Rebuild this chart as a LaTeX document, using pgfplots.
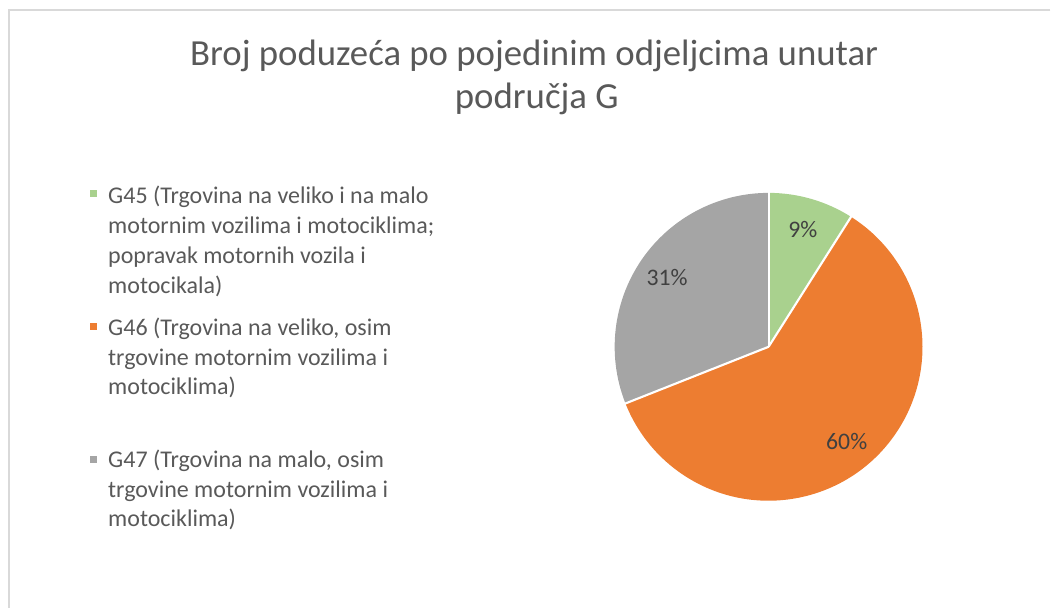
\documentclass[border=0pt]{standalone}
\usepackage{pgfplots}
\pgfplotsset{compat=1.18}
\usepackage{pgfplotstable}
\usepackage{fontspec}
\setmainfont{Carlito}
\definecolor{cGa}{HTML}{A9D18E}
\definecolor{cGb}{HTML}{ED7D31}
\definecolor{cGc}{HTML}{A5A5A5}
\definecolor{titlec}{HTML}{595959}
\definecolor{legc}{HTML}{595959}
\definecolor{labc}{HTML}{404040}
\definecolor{framec}{HTML}{D9D9D9}

\pgfplotstableread{
name value
G45 9
G46 60
G47 31
}\piedata

\pgfplotstablegetelem{0}{value}\of\piedata \let\va\pgfplotsretval
\pgfplotstablegetelem{1}{value}\of\piedata \let\vb\pgfplotsretval
\pgfplotstablegetelem{2}{value}\of\piedata \let\vc\pgfplotsretval
\pgfmathsetmacro\total{\va+\vb+\vc}
\pgfmathsetmacro\aA{90}
\pgfmathsetmacro\aB{\aA-360*(\va/\total)}
\pgfmathsetmacro\aC{\aB-360*(\vb/\total)}
\pgfmathsetmacro\aD{\aC-360*(\vc/\total)}
\pgfmathsetmacro\mA{(\aA+\aB)/2}
\pgfmathsetmacro\mB{(\aB+\aC)/2}
\pgfmathsetmacro\mC{(\aC+\aD)/2}
\def\R{115.5pt}
\def\Rl{92pt}

\begin{document}
\begin{tikzpicture}
\begin{axis}[width=788.25pt,height=456pt,scale only axis,
  xmin=0,xmax=1051,ymin=0,ymax=608,hide axis,clip=false]
% frame
\draw[framec,line width=0.9pt] (axis cs:1051,598) -- (axis cs:9,598) -- (axis cs:9,0);
% title
\node[anchor=base,inner sep=0,text=titlec,font=\fontsize{27.6}{32}\selectfont] at (axis cs:534.5,542.3) {Broj poduzeća po pojedinim odjeljcima unutar};
\node[anchor=base,inner sep=0,text=titlec,font=\fontsize{27.6}{32}\selectfont] at (axis cs:537,499.7) {područja G};
% pie
\fill[cGa] (axis cs:769,261) -- ++(\aA:\R) arc[start angle=\aA,end angle=\aB,radius=\R] -- cycle;
\fill[cGb] (axis cs:769,261) -- ++(\aB:\R) arc[start angle=\aB,end angle=\aC,radius=\R] -- cycle;
\fill[cGc] (axis cs:769,261) -- ++(\aC:\R) arc[start angle=\aC,end angle=\aD,radius=\R] -- cycle;
\draw[white,line width=1.6pt] (axis cs:769,261) -- ++(\aA:\R+1pt);
\draw[white,line width=1.6pt] (axis cs:769,261) -- ++(\aB:\R+1pt);
\draw[white,line width=1.6pt] (axis cs:769,261) -- ++(\aC:\R+1pt);
% data labels
\path (axis cs:769,261) ++(\mA:\Rl) node[text=labc,font=\fontsize{17.8}{20}\selectfont] {9\%};
\path (axis cs:769,261) ++(\mB:\Rl) node[text=labc,font=\fontsize{17.8}{20}\selectfont] {60\%};
\path (axis cs:769,261) ++(\mC:\Rl) node[text=labc,font=\fontsize{17.8}{20}\selectfont] {31\%};
% legend
\fill[cGa] (axis cs:90,418) rectangle (axis cs:97,411);
\fill[cGb] (axis cs:90,284.5) rectangle (axis cs:97,277.5);
\fill[cGc] (axis cs:90,151.3) rectangle (axis cs:97,144.3);
\begin{scope}[every node/.style={anchor=base west,inner sep=0,text=legc,font=\fontsize{18}{22}\selectfont}]
\node at (axis cs:108,404.7) {G45 (Trgovina na veliko i na malo};
\node at (axis cs:108,374.7) {motornim vozilima i motociklima;};
\node at (axis cs:108,344.7) {popravak motornih vozila i};
\node at (axis cs:108,314.7) {motocikala)};
\node at (axis cs:108,272.3) {G46 (Trgovina na veliko, osim};
\node at (axis cs:108,242.7) {trgovine motornim vozilima i};
\node at (axis cs:108,213.2) {motociklima)};
\node at (axis cs:108,140) {G47 (Trgovina na malo, osim};
\node at (axis cs:108,110.5) {trgovine motornim vozilima i};
\node at (axis cs:108,81) {motociklima)};
\end{scope}
\end{axis}
\path (current axis.south west) rectangle (current axis.north east);
\end{tikzpicture}
\end{document}
